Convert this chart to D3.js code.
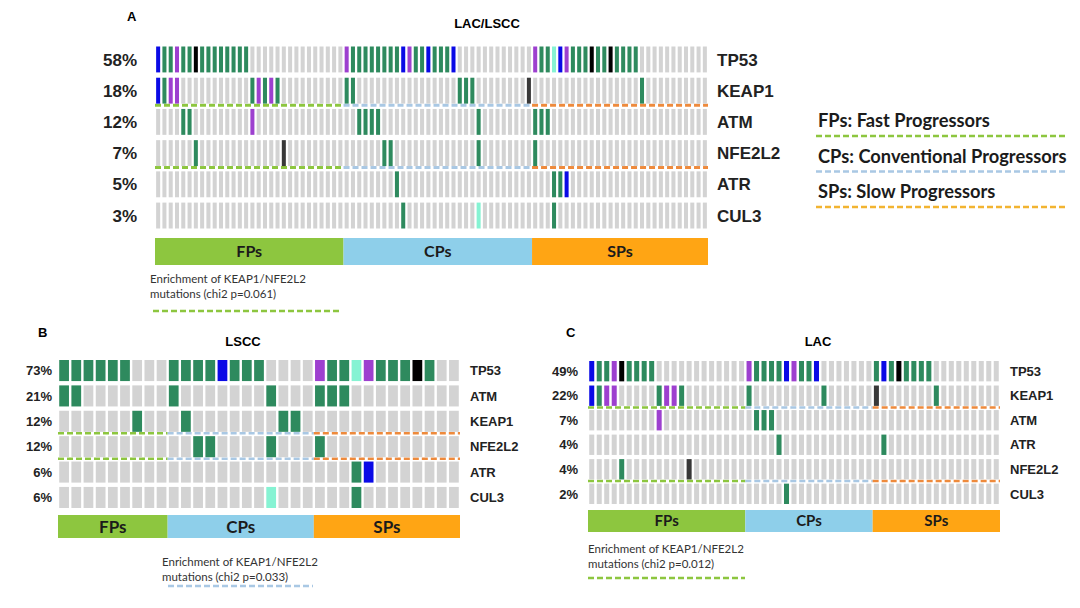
<!DOCTYPE html>
<html>
<head>
<meta charset="utf-8">
<script src="https://cdn.jsdelivr.net/npm/d3@7"></script>
<style>
  body { margin: 0; background: #fff; }
  svg { display: block; }
</style>
</head>
<body>
<script>
// --- data -------------------------------------------------------------
// hits: "col[-col]Code", codes -> mutation colour class
const genesA = ["TP53", "KEAP1", "ATM", "NFE2L2", "ATR", "CUL3"];
const pctA = ["58%", "18%", "12%", "7%", "5%", "3%"];
const groupSizesA = [30, 30, 28];
const hitsA = [
  "0B 1-2G 3P 4-5G 6K 7-14G 30P 31-38G 39B 40P 41-42G 43B 44-46G 47B 60P 61-62G 63C 64B 65P 66-68G 69K 70-71G 72K 73-76G",
  "0B 1G 2-3P 15G 16P 17G 18P 19G 30-31G 48-50G 59D 77G",
  "4-5G 15P 32-35G 51G 60-62G",
  "6G 20D 36-37G 51G 60G",
  "38G 63-64G 65B",
  "39G 51C 63G"
];

const genesB = ["TP53", "ATM", "KEAP1", "NFE2L2", "ATR", "CUL3"];
const pctB = ["73%", "21%", "12%", "12%", "6%", "6%"];
const groupSizesB = [9, 12, 12];
const hitsB = [
  "0-5G 9-12G 13B 14-16G 21P 22-23G 24C 25P 26-28G 29K 30G",
  "0-1G 9G 17G 21-23G",
  "6G 10G 18-19G",
  "11-12G 17G 21G",
  "24G 25B",
  "17C 24G"
];

const genesC = ["TP53", "KEAP1", "ATM", "ATR", "NFE2L2", "CUL3"];
const pctC = ["49%", "22%", "7%", "4%", "4%", "2%"];
const groupSizesC = [21, 17, 17];
const hitsC = [
  "0B 1-2G 3P 4K 5-8G 21P 22-25G 26B 27P 28-29G 30B 38G 39B 40G 41K 42-45G",
  "0B 1G 2-3P 9G 10-11P 12G 21G 31G 38D 46G",
  "9P 22-24G",
  "25G 39G",
  "4G 13D",
  "26G"
];

const groupNames = ["FPs", "CPs", "SPs"];
const legendLabels = ["FPs: Fast Progressors", "CPs: Conventional Progressors", "SPs: Slow Progressors"];
const dashedGenes = ["KEAP1", "NFE2L2"];

// --- styles -----------------------------------------------------------
const cellColor = {
  ".": "#d3d3d3", G: "#2e8a5e", B: "#0a0ae6", P: "#9d40cf",
  K: "#000000", D: "#383838", C: "#86f3d3"
};
const groupFill = ["#8dc63f", "#8ecfea", "#ffa514"];
const groupDash = ["#8dc63f", "#a9c8e4", "#ee8a3c"];
const legendDash = ["#8dc63f", "#a9c8e4", "#f2b431"];
const boldSans = "'Liberation Sans', Arial, sans-serif";
const softSans = "Lato, 'Open Sans', sans-serif";

const layout = [
  { letter: "A", letterXY: [127, 21], title: "LAC/LSCC", titleXY: [487, 28],
    genes: genesA, pct: pctA, sizes: groupSizesA, hits: hitsA,
    xr: [155, 708], yr: [46.5, 228.5], pad: 0.36, bar: [238, 265],
    pctX: 137, geneX: 717, fs: 17, gfs: 16, dashW: 3,
    note: [150, 283], noteDash: [153, 340, 311], noteGroup: 0, nfs: 11.5 },
  { letter: "B", letterXY: [38, 337], title: "LSCC", titleXY: [243, 346],
    genes: genesB, pct: pctB, sizes: groupSizesB, hits: hitsB,
    xr: [58, 460], yr: [360, 508], pad: 0.2, bar: [515, 538],
    pctX: 52, geneX: 470, fs: 13, gfs: 17, dashW: 2.5,
    note: [162, 566], noteDash: [168, 313, 586], noteGroup: 1, nfs: 11.5 },
  { letter: "C", letterXY: [566, 337], title: "LAC", titleXY: [818, 346],
    genes: genesC, pct: pctC, sizes: groupSizesC, hits: hitsC,
    xr: [588, 1000], yr: [361, 504], pad: 0.33, bar: [510, 532],
    pctX: 578, geneX: 1010, fs: 13, gfs: 15, dashW: 2.5,
    note: [588, 553], noteDash: [588, 745, 578], noteGroup: 0, nfs: 11.5 }
];

function parseHits(s, n) {
  const row = Array(n).fill(".");
  s.split(" ").filter(Boolean).forEach(tok => {
    const m = tok.match(/^(\d+)(?:-(\d+))?([A-Z])$/);
    const a = +m[1], b = m[2] ? +m[2] : a;
    for (let i = a; i <= b; i++) row[i] = m[3];
  });
  return row;
}

const svg = d3.select("body").append("svg")
  .attr("width", 1080).attr("height", 608);

layout.forEach(p => {
  const n = d3.sum(p.sizes);
  const cols = d3.range(n);
  const x = d3.scaleBand().domain(cols).range(p.xr).paddingInner(p.pad).paddingOuter(p.pad / 2);
  const y = d3.scaleBand().domain(p.genes).range(p.yr).paddingInner(0.17);
  const half = (x.step() - x.bandwidth()) / 2;
  const starts = d3.cumsum([0, ...p.sizes]);
  const groups = p.sizes.map((s, i) => ({
    i, name: groupNames[i],
    x0: x(starts[i]) - half,
    x1: x(starts[i] + s - 1) + x.bandwidth() + half
  }));

  const g = svg.append("g");

  g.append("text").attr("x", p.letterXY[0]).attr("y", p.letterXY[1])
    .attr("font-family", boldSans).attr("font-weight", "bold").attr("font-size", 13)
    .text(p.letter);
  g.append("text").attr("x", p.titleXY[0]).attr("y", p.titleXY[1])
    .attr("text-anchor", "middle")
    .attr("font-family", boldSans).attr("font-weight", "bold").attr("font-size", 13)
    .text(p.title);

  // dashed group separators under KEAP1 / NFE2L2
  dashedGenes.forEach(gene => {
    const yy = y(gene) + y.bandwidth() + 1.5;
    g.selectAll(null).data(groups).join("line")
      .attr("x1", d => d.x0).attr("x2", d => d.x1)
      .attr("y1", yy).attr("y2", yy)
      .attr("stroke", d => groupDash[d.i])
      .attr("stroke-width", p.dashW)
      .attr("stroke-dasharray", "6 3");
  });

  // cells
  const cells = [];
  p.genes.forEach((gene, r) => {
    parseHits(p.hits[r], n).forEach((c, i) => cells.push({ gene, i, c }));
  });
  g.append("g").selectAll("rect").data(cells).join("rect")
    .attr("x", d => x(d.i)).attr("y", d => y(d.gene))
    .attr("width", x.bandwidth()).attr("height", y.bandwidth())
    .attr("fill", d => cellColor[d.c]);

  // percentages and gene names
  g.append("g").selectAll("text").data(p.genes).join("text")
    .attr("x", p.pctX).attr("y", d => y(d) + y.bandwidth() / 2)
    .attr("dy", "0.36em").attr("text-anchor", "end")
    .attr("font-family", boldSans).attr("font-weight", "bold").attr("font-size", p.fs)
    .attr("fill", "#222")
    .text((d, i) => p.pct[i]);
  g.append("g").selectAll("text").data(p.genes).join("text")
    .attr("x", p.geneX).attr("y", d => y(d) + y.bandwidth() / 2)
    .attr("dy", "0.36em")
    .attr("font-family", boldSans).attr("font-weight", "bold").attr("font-size", p.fs)
    .attr("fill", "#222")
    .text(d => d);

  // group bar
  g.append("g").selectAll("rect").data(groups).join("rect")
    .attr("x", d => d.x0).attr("width", d => d.x1 - d.x0)
    .attr("y", p.bar[0]).attr("height", p.bar[1] - p.bar[0])
    .attr("fill", d => groupFill[d.i]);
  g.append("g").selectAll("text").data(groups).join("text")
    .attr("x", d => (d.x0 + d.x1) / 2).attr("y", (p.bar[0] + p.bar[1]) / 2)
    .attr("dy", "0.36em").attr("text-anchor", "middle")
    .attr("font-family", softSans).attr("font-weight", "bold").attr("font-size", p.gfs)
    .attr("fill", "#1b1b1b")
    .text(d => d.name);

  // enrichment note
  const note = g.append("text").attr("font-family", softSans).attr("font-size", p.nfs).attr("fill", "#333");
  note.append("tspan").attr("x", p.note[0]).attr("y", p.note[1]).text("Enrichment of KEAP1/NFE2L2");
  note.append("tspan").attr("x", p.note[0]).attr("y", p.note[1] + 15)
    .text("mutations (chi2 p=" + ({ A: "0.061", B: "0.033", C: "0.012" })[p.letter] + ")");
  g.append("line")
    .attr("x1", p.noteDash[0]).attr("x2", p.noteDash[1])
    .attr("y1", p.noteDash[2]).attr("y2", p.noteDash[2])
    .attr("stroke", groupDash[p.noteGroup]).attr("stroke-width", 2.5)
    .attr("stroke-dasharray", "6 3");
});

// legend of panel A
const legend = svg.append("g").selectAll("g").data(legendLabels).join("g")
  .attr("transform", (d, i) => `translate(0,${i * 35.5})`);
legend.append("text").attr("x", 818).attr("y", 127)
  .attr("font-family", softSans).attr("font-weight", "bold").attr("font-size", 18.3)
  .attr("fill", "#1b1b1b")
  .text(d => d);
legend.append("line").attr("x1", 816).attr("x2", 1068).attr("y1", 136).attr("y2", 136)
  .attr("stroke", (d, i) => legendDash[i]).attr("stroke-width", 2.5)
  .attr("stroke-dasharray", "6 3");
</script>
</body>
</html>
